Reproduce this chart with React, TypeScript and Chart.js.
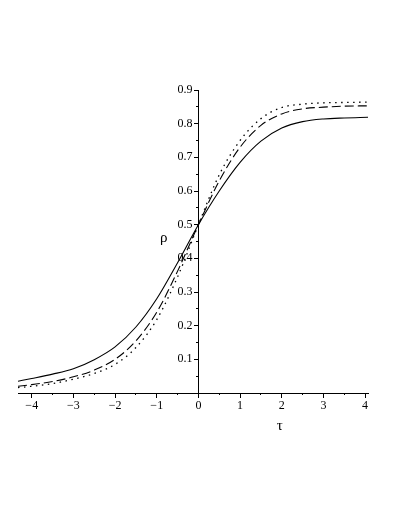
import React, { useEffect, useRef } from "react";
import { Chart, registerables } from "chart.js";

Chart.register(...registerables);

const tau = [-4.33, -4, -3.5, -3, -2.5, -2, -1.5, -1, -0.5, 0, 0.5, 1, 1.5, 2, 2.5, 3, 3.5, 4.07];
const rhoSolid = [0.035, 0.043, 0.056, 0.072, 0.099, 0.137, 0.196, 0.28, 0.387, 0.5, 0.6, 0.685, 0.748, 0.787, 0.806, 0.814, 0.817, 0.819];
const rhoDashed = [0.02, 0.025, 0.034, 0.048, 0.068, 0.1, 0.155, 0.24, 0.362, 0.5, 0.63, 0.73, 0.795, 0.829, 0.844, 0.849, 0.852, 0.853];
const rhoDotted = [0.016, 0.02, 0.028, 0.041, 0.058, 0.085, 0.135, 0.218, 0.345, 0.5, 0.648, 0.75, 0.815, 0.848, 0.858, 0.862, 0.863, 0.864];

const xMin = -4.33;
const xMax = 4.07;
const yMin = 0;
const yMax = 0.9;

const FONT = "'Liberation Serif', 'DejaVu Serif', serif";

function fmtX(v: number): string {
  if (Math.abs(v - Math.round(v)) > 1e-6) return "";
  const r = Math.round(v);
  return r < 0 ? "\u2212" + Math.abs(r) : String(r);
}

function fmtY(v: number): string {
  if (Math.abs(v) < 1e-6) return "";
  return v.toFixed(1) + "\u2002";
}

const titlesPlugin = {
  id: "axisTitles",
  afterDraw(chart: any) {
    const ctx = chart.ctx;
    const xs = chart.scales.x;
    const ys = chart.scales.y;
    ctx.save();
    ctx.fillStyle = "#000";
    ctx.font = "15px " + FONT;
    ctx.textAlign = "center";
    ctx.textBaseline = "middle";
    ctx.fillText("\u03C1", xs.getPixelForValue(-0.83), ys.getPixelForValue(0.46));
    ctx.fillText("\u03C4", xs.getPixelForValue(1.95), ys.getPixelForValue(0) + 33);
    ctx.restore();
  },
};

export default function App() {
  const ref = useRef<HTMLCanvasElement | null>(null);
  useEffect(() => {
    if (!ref.current) return;
    const mk = (arr: number[]) => tau.map((t, i) => ({ x: t, y: arr[i] }));
    const chart = new Chart(ref.current, {
      type: "line",
      data: {
        datasets: [
          { data: mk(rhoSolid), borderColor: "#000", borderWidth: 1.1, pointRadius: 0, cubicInterpolationMode: "monotone", fill: false },
          { data: mk(rhoDashed), borderColor: "#000", borderWidth: 1.1, borderDash: [9, 4], pointRadius: 0, cubicInterpolationMode: "monotone", fill: false },
          { data: mk(rhoDotted), borderColor: "#000", borderWidth: 1.3, borderDash: [1.5, 4.5], pointRadius: 0, cubicInterpolationMode: "monotone", fill: false },
        ],
      },
      options: {
        animation: false,
        responsive: false,
        maintainAspectRatio: false,
        layout: { padding: { left: 18, right: 29, top: 90, bottom: 121 } },
        plugins: { legend: { display: false }, tooltip: { enabled: false }, title: { display: false } },
        scales: {
          x: {
            type: "linear",
            min: xMin,
            max: xMax,
            position: { y: 0 } as any,
            ticks: { stepSize: 1, includeBounds: false, autoSkip: false, maxRotation: 0, color: "#000", font: { family: FONT, size: 12 }, padding: 2, callback: (v: any) => fmtX(Number(v)) },
            grid: { drawOnChartArea: false, tickLength: 4, color: "#000", tickColor: "#000" },
            border: { color: "#000", width: 1 },
          },
          xMinor: {
            type: "linear",
            axis: "x",
            min: xMin,
            max: xMax,
            position: { y: 0 } as any,
            ticks: { stepSize: 0.5, includeBounds: false, display: false, autoSkip: false },
            grid: { drawOnChartArea: false, tickLength: 2, color: "#000", tickColor: "#000" },
            border: { display: false },
          },
          y: {
            type: "linear",
            min: yMin,
            max: yMax,
            position: { x: 0 } as any,
            ticks: { stepSize: 0.1, includeBounds: false, autoSkip: false, color: "#000", font: { family: FONT, size: 12 }, padding: 3, callback: (v: any) => fmtY(Number(v)) },
            grid: { drawOnChartArea: false, tickLength: 4, color: "#000", tickColor: "#000" },
            border: { color: "#000", width: 1 },
          },
          yMinor: {
            type: "linear",
            axis: "y",
            min: yMin,
            max: yMax,
            position: { x: 0 } as any,
            ticks: { stepSize: 0.05, includeBounds: false, display: false, autoSkip: false },
            grid: { drawOnChartArea: false, tickLength: 2, color: "#000", tickColor: "#000" },
            border: { display: false },
          },
        },
      } as any,
      plugins: [titlesPlugin],
    });
    return () => chart.destroy();
  }, []);
  return (
    <canvas
      ref={ref}
      width={397}
      height={514}
      style={{ position: "absolute", left: 0, top: 0, width: 397, height: 514, background: "#fff" }}
    />
  );
}
